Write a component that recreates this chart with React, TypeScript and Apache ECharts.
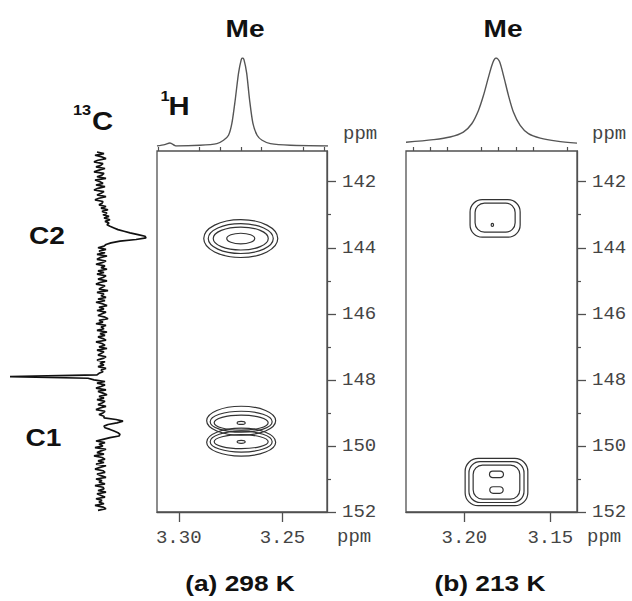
import React, { useEffect, useRef } from "react";
import * as echarts from "echarts";

// ---- axis ticks (ppm) ----
const majorYTicks = [142, 144, 146, 148, 150, 152];
const minorYTicks = [143, 145, 147, 149, 151];
const majorXTicksA = [3.3, 3.25];
const minorXTicksA = [3.23, 3.24, 3.26, 3.27, 3.28, 3.29, 3.31];
const majorXTicksB = [3.2, 3.15];
const minorXTicksB = [3.14, 3.16, 3.17, 3.18, 3.19, 3.21, 3.22, 3.23];

// ---- 1H projections: [ppm, intensity] ----
const protonA: [number, number][] = [
  [3.3105, 0], [3.3068, 1.5], [3.3043, 3.4], [3.3019, 0.5], [3.3011, 0],
  [3.2899, 0.8], [3.2818, 2.7], [3.2786, 6.5], [3.2762, 12.2], [3.2746, 25.6],
  [3.273, 52.3], [3.2714, 82.8], [3.2701, 98.1], [3.2695, 100], [3.2688, 98.1],
  [3.2675, 82.8], [3.2661, 52.3], [3.2645, 25.6], [3.2625, 12.2], [3.2601, 6.5],
  [3.2561, 2.7], [3.2465, 0.8], [3.2285, 0],
];
const protonB: [number, number][] = [
  [3.234, 4.2], [3.2181, 7.2], [3.2083, 10.2], [3.2006, 15.8], [3.1957, 25.3],
  [3.1918, 40.4], [3.1889, 57.3], [3.186, 78.0], [3.1834, 95.0], [3.1815, 100],
  [3.1796, 96.2], [3.1772, 80.0], [3.1743, 57.3], [3.1714, 38.4], [3.1675, 23.4],
  [3.1627, 14.0], [3.1558, 9.0], [3.1461, 5.6], [3.1344, 3.3],
];

// ---- 13C projection: intensities sampled every 0.05 ppm from 141.10 ----
const c13Start = 141.1;
const c13Step = 0.05;
const c13Intensity = [
  -3, 4, -5, 2, 6, -2, -6, 3, 1, -4, 5, -1, -6, 4, 2, -3, 6, -5, 0, 3, -4, 5, -2, -6, 4, 1, -3, 6, -1, -5, 3, 2,
  -1, 6, 1, 8, 2, 7, 3, 9, 4, 10, 5, 9, 7,
  10, 14, 18, 24, 30, 38, 45, 46, 36, 20, 11, 6, 4,
  -2, 6, -1, 5, -3, 7, 0, -3, 6, 2, -4, 5, 1, 7, -2, 4, -3, 6, 3, -2,
  7, 0, -4, 5, 2, -1, 8, -3, 4, 1, 6, -2, 5, -4, 3, 7, -1, 4, -3, 6,
  2, -2, 5, 8, -1, 3, -4, 6, 1, 4, -3, 7, 0, 5, -2, 3, 6, -4, 2, 5,
  -1, 7, -3, 4, 1, -2, 6, 3, -3, 5, 0, 4, -2, 6, 1, 3, -1,
  -3, -90, -12, -6, 5,
  -3, 5, 1, -4, 6, -2, 3, 7, -1, 4, -3, 5, 2, -2, 6, 0, -4, 5, 3, -1, 4,
  4, 16, 23, 17, 8, 4, 5, 10, 14, 18, 20, 19, 10, 3,
  -4, 5, -1, 3, -5, 6, 1, -3, 4, -6, 2, 5, -2, 4, -4, 6, 0, -5, 3, 5,
  -3, 1, 6, -4, 2, -1, 5, -5, 3, 4, -2, 6, -3, 1, 5, -4, 2, -1, 4, -5, 3, 6, -2,
];

// ---- contours: [1H ppm, 13C ppm, half-width 1H, half-height 13C, corner roundness (0 = ellipse)] ----
const contoursA: number[][] = [
  [3.2701, 143.72, 0.01785, 0.574, 0],
  [3.2701, 143.72, 0.01568, 0.453, 0],
  [3.2701, 143.72, 0.01327, 0.347, 0],
  [3.2701, 143.72, 0.00675, 0.16, 0],
  [3.2699, 149.236, 0.01664, 0.438, 0],
  [3.2699, 149.266, 0.01495, 0.317, 0],
  [3.2699, 149.296, 0.01302, 0.227, 0],
  [3.2699, 149.302, 0.00193, 0.045, 0],
  [3.2699, 149.885, 0.01664, 0.423, 0],
  [3.2699, 149.87, 0.01495, 0.317, 0],
  [3.2699, 149.87, 0.01302, 0.211, 0],
  [3.2699, 149.876, 0.00193, 0.045, 0],
];
const contoursB: number[][] = [
  [3.1821, 143.112, 0.01459, 0.568, 0.65],
  [3.1821, 143.088, 0.01167, 0.438, 0.65],
  [3.1837, 143.308, 0.0007, 0.045, 0],
  [3.1813, 151.094, 0.01826, 0.716, 0.55],
  [3.1813, 151.094, 0.01604, 0.619, 0.55],
  [3.1813, 151.094, 0.01359, 0.514, 0.55],
  [3.1813, 150.861, 0.00408, 0.1, 1],
  [3.1813, 151.335, 0.00391, 0.1, 1],
];

// ---- texts ----
const peakLabel = "Me";
const panelLabels = ["(a) 298 K", "(b) 213 K"];
const carbonLabels = ["C2", "C1"];
const unitLabel = "ppm";

const MONO = "'Liberation Mono', 'DejaVu Sans Mono', monospace";
const SANS = "'Liberation Sans', Arial, sans-serif";
const AXIS_COLOR = "#505050";

function mainX(grid: number, min: number, max: number, ticks: number[]) {
  return {
    type: "value", gridIndex: grid, inverse: true, min, max,
    axisLine: { show: true, lineStyle: { color: AXIS_COLOR, width: 1.3 } },
    axisTick: { show: true, customValues: ticks, length: 10, lineStyle: { color: AXIS_COLOR, width: 1.3 } },
    axisLabel: {
      show: true, customValues: ticks, margin: 16, fontFamily: MONO, fontSize: 19, color: "#444",
      formatter: (v: number) => v.toFixed(2),
    },
    splitLine: { show: false },
  };
}
function minorX(grid: number, min: number, max: number, ticks: number[]) {
  return {
    type: "value", gridIndex: grid, inverse: true, min, max,
    axisLine: { show: false },
    axisTick: { show: true, customValues: ticks, length: 4, lineStyle: { color: AXIS_COLOR, width: 1.2 } },
    axisLabel: { show: false },
    splitLine: { show: false },
  };
}
const Y_MIN = 141.07;
const Y_MAX = 152;
function mainY(grid: number) {
  return {
    type: "value", gridIndex: grid, inverse: true, position: "right", min: Y_MIN, max: Y_MAX,
    axisLine: { show: true, lineStyle: { color: AXIS_COLOR, width: 1.3 } },
    axisTick: { show: true, customValues: majorYTicks, length: 9, lineStyle: { color: AXIS_COLOR, width: 1.3 } },
    axisLabel: {
      show: true, customValues: majorYTicks, margin: 15, fontFamily: MONO, fontSize: 19, color: "#444",
      formatter: (v: number) => String(Math.round(v)),
    },
    splitLine: { show: false },
  };
}
function minorY(grid: number) {
  return {
    type: "value", gridIndex: grid, inverse: true, position: "right", min: Y_MIN, max: Y_MAX,
    axisLine: { show: false },
    axisTick: { show: true, customValues: minorYTicks, length: 4, lineStyle: { color: AXIS_COLOR, width: 1.2 } },
    axisLabel: { show: false },
    splitLine: { show: false },
  };
}
function hidden(grid: number, extra: any) {
  return { type: "value", gridIndex: grid, show: false, splitLine: { show: false }, ...extra };
}

function contourRender(_params: any, api: any) {
  const x = api.value(0);
  const y = api.value(1);
  const c = api.coord([x, y]);
  const s = api.size([api.value(2) * 2, api.value(3) * 2], [x, y]);
  const w = Math.abs(s[0]) / 2;
  const h = Math.abs(s[1]) / 2;
  const r = api.value(4);
  const style = { fill: "none", stroke: "#333", lineWidth: 1.2 };
  if (r > 0) {
    return {
      type: "rect",
      shape: { x: c[0] - w, y: c[1] - h, width: 2 * w, height: 2 * h, r: r * Math.min(w, h) },
      style,
    };
  }
  return { type: "ellipse", shape: { cx: c[0], cy: c[1], rx: w, ry: h }, style };
}

function boldText(text: string, x: number, y: number, size: number, sx = 1.17) {
  return {
    type: "text", x, y, scaleX: sx,
    style: { text, fontSize: size, fontWeight: "bold", fontFamily: SANS, fill: "#111", align: "center", verticalAlign: "middle" },
  };
}
function monoText(text: string, x: number, y: number) {
  return {
    type: "text", x, y,
    style: { text, fontSize: 19, fontFamily: MONO, fill: "#444", align: "left", verticalAlign: "middle" },
  };
}

export default function App() {
  const ref = useRef<HTMLDivElement>(null);
  useEffect(() => {
    if (!ref.current) return;
    const chart = echarts.init(ref.current, null, { renderer: "svg" });
    const xA: [number, number] = [3.2285, 3.3105];
    const xB: [number, number] = [3.1344, 3.234];
    const option: any = {
      animation: false,
      backgroundColor: "#fff",
      grid: [
        { left: 157, top: 151, width: 170, height: 361, show: true, borderColor: AXIS_COLOR, borderWidth: 1.3 },
        { left: 406, top: 151, width: 171, height: 361, show: true, borderColor: AXIS_COLOR, borderWidth: 1.3 },
        { left: 157, top: 58, width: 171, height: 88 },
        { left: 406, top: 58, width: 171, height: 88 },
        { left: 0, top: 151, width: 160, height: 361 },
      ],
      xAxis: [
        mainX(0, xA[0], xA[1], majorXTicksA),
        minorX(0, xA[0], xA[1], minorXTicksA),
        mainX(1, xB[0], xB[1], majorXTicksB),
        minorX(1, xB[0], xB[1], minorXTicksB),
        hidden(2, { inverse: true, min: xA[0], max: xA[1] }),
        hidden(3, { inverse: true, min: xB[0], max: xB[1] }),
        hidden(4, { min: -100, max: 60 }),
      ],
      yAxis: [
        mainY(0),
        minorY(0),
        mainY(1),
        minorY(1),
        hidden(2, { min: 0, max: 100 }),
        hidden(3, { min: 0, max: 100 }),
        hidden(4, { inverse: true, min: Y_MIN, max: Y_MAX }),
      ],
      series: [
        {
          type: "custom", xAxisIndex: 0, yAxisIndex: 0, data: contoursA,
          encode: { x: 0, y: 1 }, renderItem: contourRender, silent: true,
        },
        {
          type: "custom", xAxisIndex: 2, yAxisIndex: 2, data: contoursB,
          encode: { x: 0, y: 1 }, renderItem: contourRender, silent: true,
        },
        {
          type: "line", xAxisIndex: 4, yAxisIndex: 4, data: protonA, showSymbol: false,
          smooth: 0.25, lineStyle: { color: "#555", width: 1.4 }, silent: true,
        },
        {
          type: "line", xAxisIndex: 5, yAxisIndex: 5, data: protonB, showSymbol: false,
          smooth: 0.3, lineStyle: { color: "#555", width: 1.4 }, silent: true,
        },
        {
          type: "line", xAxisIndex: 6, yAxisIndex: 6, showSymbol: false, silent: true,
          data: c13Intensity.map((v, i) => [v, +(c13Start + i * c13Step).toFixed(2)]),
          lineStyle: { color: "#111", width: 1.7 },
        },
      ],
      graphic: [
        boldText(peakLabel, 245, 28.5, 24),
        boldText(peakLabel, 503, 28.5, 24),
        boldText("13", 82, 109.5, 14),
        boldText("C", 102.5, 121, 25),
        boldText("1", 165, 96, 14),
        boldText("H", 179, 106.7, 25),
        boldText(carbonLabels[0], 47, 235.5, 24),
        boldText(carbonLabels[1], 43.5, 437.5, 24),
        boldText(panelLabels[0], 240, 583, 22.5),
        boldText(panelLabels[1], 490, 583, 22.5),
        monoText(unitLabel, 343, 134),
        monoText(unitLabel, 592, 134),
        monoText(unitLabel, 337, 537),
        monoText(unitLabel, 587, 537),
      ],
    };
    chart.setOption(option);
    return () => chart.dispose();
  }, []);
  return (
    <div
      ref={ref}
      style={{ position: "fixed", left: 0, top: 0, width: 632, height: 601, background: "#fff" }}
    />
  );
}
